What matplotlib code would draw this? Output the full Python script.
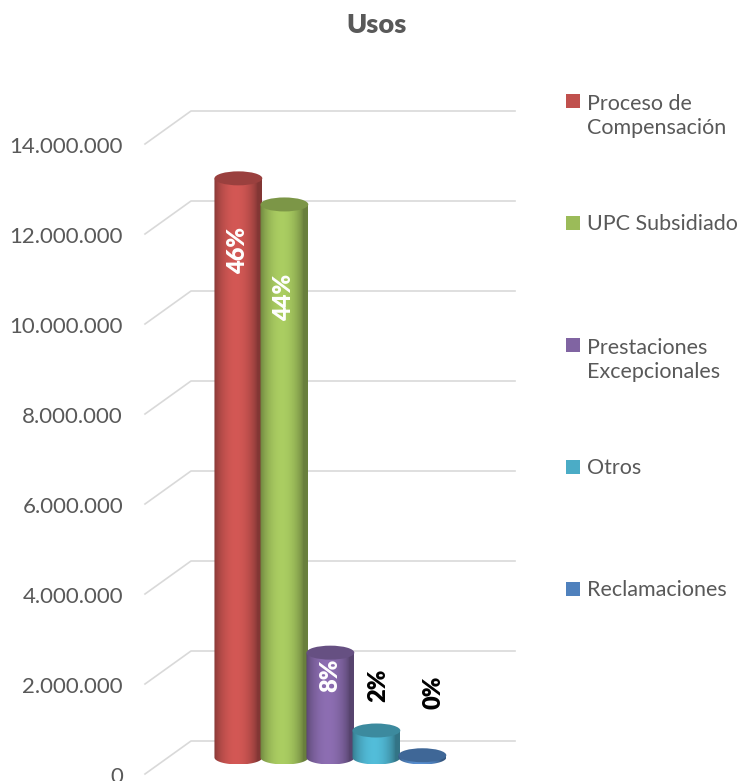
import matplotlib.pyplot as plt
import numpy as np
from matplotlib.patches import Ellipse, Polygon, Rectangle
from matplotlib.colors import to_rgb

# Datos del gráfico "Usos"
categorias = ['Proceso de\nCompensación', 'UPC Subsidiado',
              'Prestaciones\nExcepcionales', 'Otros', 'Reclamaciones']
valores = [12.87e6, 12.29e6, 2.33e6, 0.60e6, 0.05e6]
colores = ['#C0504D', '#9BBB59', '#8064A2', '#4BACC6', '#4F81BD']
ticks_y = [0, 2e6, 4e6, 6e6, 8e6, 10e6, 12e6, 14e6]

plt.rcParams['font.family'] = ['Lato', 'DejaVu Sans']
gris = '#595959'

fig = plt.figure(figsize=(7.4, 7.81), dpi=100)
W, H = 740, 781
px_unit_x = 46.0        # pixeles por categoría
px_unit_y = 45.0        # pixeles por millón
ax_left, ax_right = 145, 515
y0_px = 774
ylim_top = 15e6
ax = fig.add_axes([ax_left / W, (H - y0_px) / H,
                   (ax_right - ax_left) / W, ylim_top / 1e6 * px_unit_y / H])
x_min = -2.03
x_max = x_min + (ax_right - ax_left) / px_unit_x
ax.axis('off')

# profundidad 3D simulada
prof_x = 1.0                       # unidades de categoría
prof_y = 33 / px_unit_y * 1e6      # en unidades de datos
base = prof_y / 2
ancho = 1.04
elip_h = 14 / px_unit_y * 1e6


def miles(v):
    return f'{int(v):,}'.replace(',', '.')


# cuadrícula (pared trasera + diagonal) y etiquetas del eje
for v in ticks_y:
    ax.plot([x_min, x_min + prof_x, x_max], [v, v + prof_y, v + prof_y],
            color='#D9D9D9', lw=1.2, zorder=1, clip_on=False)
    ax.text(x_min - 22 / px_unit_x, v - 3 / px_unit_y * 1e6, miles(v),
            ha='right', va='center', fontsize=16, color=gris)

# perfil de sombreado del cilindro
t = np.linspace(0, 1, 80)
perfil = 0.68 + 0.42 * np.sin(np.pi * np.clip(t * 1.1, 0, 1)) ** 0.7

for i, (v, c) in enumerate(zip(valores, colores)):
    x0, x1 = i - ancho / 2, i + ancho / 2
    top = base + v
    rgb = np.array(to_rgb(c))
    th = np.linspace(np.pi, 2 * np.pi, 40)
    arco = np.column_stack([i + ancho / 2 * np.cos(th),
                            base + elip_h / 2 * np.sin(th)])
    pts = np.vstack([[x0, top], arco, [x1, top]])
    cuerpo = Polygon(pts, closed=True, facecolor='none', edgecolor='none',
                     zorder=3 + i)
    ax.add_patch(cuerpo)
    grad = np.clip(rgb[None, None, :] * perfil[None, :, None], 0, 1)
    im = ax.imshow(grad, extent=(x0, x1, base - elip_h / 2, top),
                   aspect='auto', zorder=3 + i, interpolation='bilinear')
    im.set_clip_path(cuerpo)
    ax.add_patch(Ellipse((i, top), ancho, elip_h,
                         facecolor=np.clip(rgb * 0.8, 0, 1),
                         edgecolor='none', zorder=3.5 + i))

ax.set_xlim(x_min, x_max)
ax.set_ylim(0, ylim_top)

# etiquetas de porcentaje
total = sum(valores)
etiqueta_y = [11.64e6, 10.6e6, 2.2e6, 1.98e6, 1.82e6]
etiqueta_x = [0, 1, 2, 3.05, 4.25]
for i, v in enumerate(valores):
    pct = f'{round(v / total * 100)}%'
    col = 'white' if i < 3 else 'black'
    ax.text(etiqueta_x[i], etiqueta_y[i], pct, rotation=90, ha='center',
            va='center', fontsize=17, fontweight='heavy', color=col, zorder=20)

# título
fig.text(377 / W, 1 - 25 / H, 'Usos', ha='center', va='center',
         fontsize=19.5, fontweight='heavy', color=gris)

# leyenda
for k, (nom, c) in enumerate(zip(categorias, colores)):
    yk = 101 + k * 122
    n = nom.count('\n')
    fig.patches.append(Rectangle((566 / W, 1 - (yk + 7) / H), 14 / W, 14 / H,
                                 transform=fig.transFigure, facecolor=c,
                                 edgecolor='none'))
    fig.text(587 / W, 1 - (yk + 1 + n * 14) / H, nom, ha='left', va='center',
             fontsize=15.5, color=gris, linespacing=1.3)

fig.savefig('out.png', dpi=100)
